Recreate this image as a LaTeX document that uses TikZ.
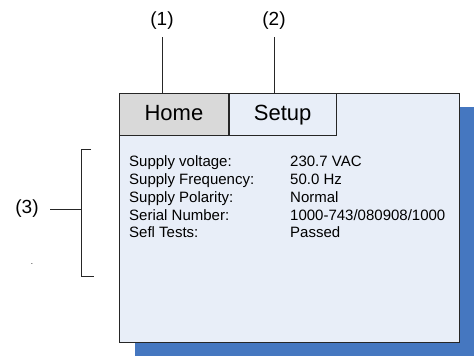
\documentclass[tikz,border=0pt]{standalone}
\usepackage{fontspec}
\setmainfont{Liberation Sans}
\usepackage{tikz}
\usetikzlibrary{positioning}

\definecolor{panelblue}{HTML}{E8EEF8}
\definecolor{shadowblue}{HTML}{4577C0}
\definecolor{tabgray}{HTML}{D9D9D9}

\tikzset{
  tab/.style={draw=black!85, thick, minimum width=107pt, minimum height=42pt,
    inner sep=0pt, text height=16pt, text depth=4pt,
    font=\fontsize{22}{26}\selectfont},
  callout/.style={font=\fontsize{19}{22}\selectfont, inner sep=1pt},
  rowtext/.style={anchor=base west, inner sep=0pt, font=\fontsize{15}{18}\selectfont},
  lead/.style={thick, black!85}
}

\begin{document}
\begin{tikzpicture}[x=1pt,y=1pt]
  \useasboundingbox (0,0) rectangle (474,356);
  \begin{scope}
    \clip (0,0) rectangle (474,356);
    % shadow and panel
    \fill [shadowblue] (135,-5) rectangle (480,249);
    \draw [black!85, thick, fill=panelblue] (119,14) rectangle (459,263);
  \end{scope}

  % tabs
  \node [tab, fill=tabgray, anchor=north west, minimum width=109pt] (home) at (119,263) {Home};
  \node [tab, fill=panelblue, anchor=north west] (setup) at (home.north east) {Setup};

  % callouts
  \node [callout] (one) at (162,335) {(1)};
  \node [callout] (two) at (274,335) {(2)};
  \draw [lead] (one.south) ++(0,-6) coordinate (oneend) -- (home.north -| oneend);
  \draw [lead] (two.south) ++(0,-6) coordinate (twoend) -- (setup.north -| twoend);

  % readings
  \foreach \lab/\val [count=\i] in {{Supply voltage:}/{230.7 VAC},
      {Supply Frequency:}/{50.0 Hz},
      {Supply Polarity:}/{Normal},
      {Serial Number:}/{1000-743/080908/1000},
      {Sefl Tests:}/{Passed}}{
    \node [rowtext] (lab\i) at (129,{189-17.7*(\i-1)}) {\lab};
    \node [rowtext] (val\i) at (290,{189-17.7*(\i-1)}) {\val};
  }

  % bracket
  \coordinate (btop) at (81,207);
  \coordinate (bbot) at (81,80);
  \draw [lead] (91,207) -- (btop) -- (bbot) -- (94,80);
  \node [callout] (three) at (27,147) {(3)};
  \draw [lead] (50,147) -- (btop |- three);
  \node [inner sep=0pt, font=\fontsize{8}{8}\selectfont] (dot) at (32,92) {.};
\end{tikzpicture}
\end{document}
